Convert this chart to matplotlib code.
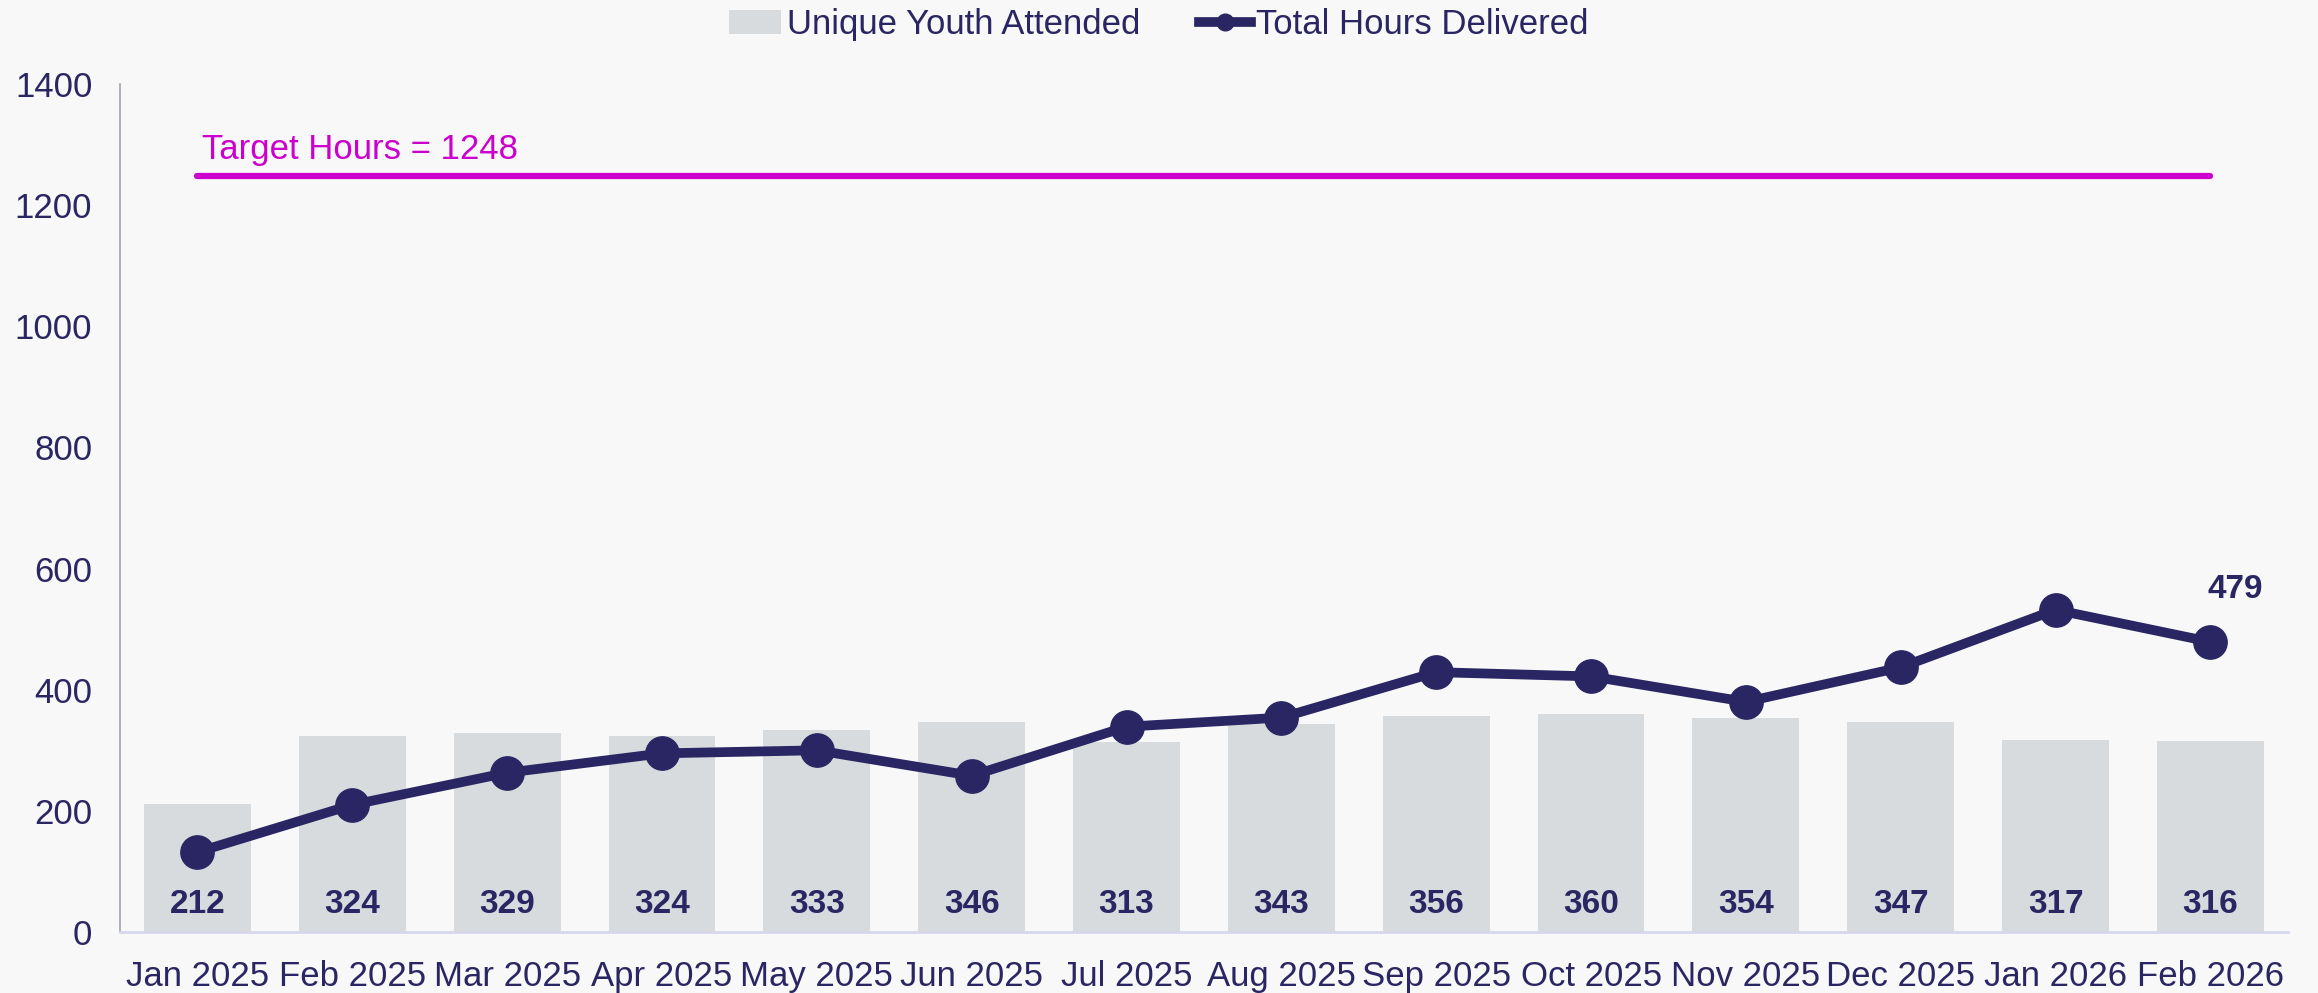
import matplotlib.pyplot as plt

plt.rcParams['font.family'] = ['Liberation Sans', 'DejaVu Sans']

months = ['Jan 2025', 'Feb 2025', 'Mar 2025', 'Apr 2025', 'May 2025', 'Jun 2025', 'Jul 2025',
          'Aug 2025', 'Sep 2025', 'Oct 2025', 'Nov 2025', 'Dec 2025', 'Jan 2026', 'Feb 2026']
youth = [212, 324, 329, 324, 333, 346, 313, 343, 356, 360, 354, 347, 317, 316]
hours = [132, 210, 263, 295, 300, 258, 339, 354, 429, 422, 380, 437, 532, 479]
target = 1248

navy = '#2A2663'
bar_col = '#D8DBDE'
bg = '#F8F8F8'
magenta = '#CC00CC'

fig = plt.figure(figsize=(23.18, 9.93), dpi=100, facecolor=bg)
ax = fig.add_axes([0.0518, 0.0614, 0.9352, 0.854])
ax.set_facecolor(bg)

x = list(range(len(months)))
bars = ax.bar(x, youth, width=0.69, color=bar_col, label='Unique Youth Attended', zorder=1)
for i, v in enumerate(youth):
    ax.text(i, 46, str(v), ha='center', va='center', fontsize=24, fontweight='bold', color=navy, zorder=3)

line, = ax.plot(x, hours, color=navy, linewidth=7, marker='o', markersize=24,
                label='Total Hours Delivered', zorder=4)
ax.annotate(str(hours[-1]), (x[-1], hours[-1]), xytext=(18, 38), textcoords='offset points',
            ha='center', va='center', fontsize=24, fontweight='bold', color=navy)

# target line
ax.plot([x[0], x[-1]], [target, target], color=magenta, linewidth=4.5, solid_capstyle='round', zorder=2)
ax.text(x[0] + 0.03, target + 16, 'Target Hours = %d' % target, color=magenta, fontsize=25,
        ha='left', va='bottom')

ax.set_xlim(-0.5, 13.5)
ax.set_ylim(0, 1400)
ax.set_yticks(range(0, 1401, 200))
ax.set_xticks(x)
ax.set_xticklabels(months)
ax.tick_params(axis='both', length=0, labelsize=25, colors=navy)
ax.tick_params(axis='y', pad=20)
ax.tick_params(axis='x', pad=20)

for s in ['top', 'right']:
    ax.spines[s].set_visible(False)
ax.spines['left'].set_color('#A0A4AC')
ax.spines['left'].set_linewidth(1.2)
ax.spines['bottom'].set_color('#D6D6EE')
ax.spines['bottom'].set_linewidth(2)

leg = fig.legend([bars, line], ['Unique Youth Attended', 'Total Hours Delivered'],
                 loc='center', bbox_to_anchor=(0.5, 0.975), ncol=2, frameon=False,
                 fontsize=25, handlelength=1.5, handletextpad=0.15, columnspacing=1.7,
                 markerscale=0.5)
for t in leg.get_texts():
    t.set_color(navy)

fig.savefig('out.png', dpi=100, facecolor=bg)
